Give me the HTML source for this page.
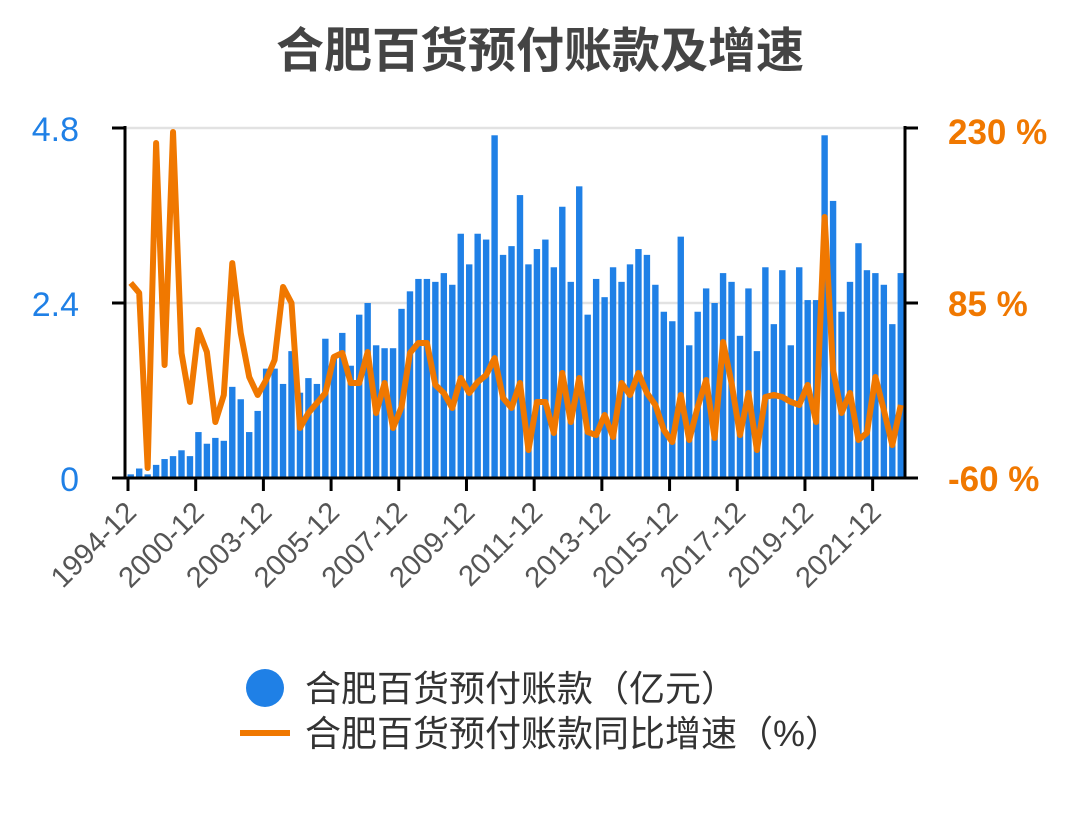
<!DOCTYPE html>
<html><head><meta charset="utf-8"><style>
body{margin:0;background:#fff;}
svg text{font-family:"Liberation Sans","Noto Sans CJK SC",sans-serif;}
</style></head><body>
<svg id="chart" width="1080" height="810" viewBox="0 0 1080 810" xmlns="http://www.w3.org/2000/svg">
<text x="540" y="67" text-anchor="middle" font-size="48" font-weight="bold" fill="#444">合肥百货预付账款及增速</text>
<g id="grid"></g><g id="bars"></g><g id="line"></g><g id="axes"></g>
<g>
<g><circle cx="265" cy="688" r="19" fill="#1f80e6"/><text x="305" y="701" font-size="36" fill="#333">合肥百货预付账款（亿元）</text></g>
<g><line x1="240" y1="733" x2="290" y2="733" stroke="#f07800" stroke-width="6"/><text x="305" y="746" font-size="36" fill="#333">合肥百货预付账款同比增速（%）</text></g>
</g>
</svg>
<script>
const barValues=[0.05,0.13,0.05,0.18,0.26,0.30,0.38,0.30,0.63,0.47,0.55,0.51,1.25,1.08,0.63,0.92,1.5,1.5,1.29,1.74,1.17,1.37,1.29,1.91,1.66,1.99,1.54,2.24,2.4,1.82,1.78,1.78,2.32,2.56,2.73,2.73,2.69,2.81,2.65,3.35,2.93,3.35,3.27,4.70,3.06,3.18,3.88,2.93,3.14,3.27,2.89,3.72,2.69,4.0,2.24,2.73,2.48,2.89,2.69,2.93,3.14,3.06,2.65,2.28,2.15,3.31,1.82,2.28,2.6,2.4,2.81,2.69,1.95,2.6,1.74,2.89,2.11,2.85,1.82,2.89,2.44,2.44,4.70,3.80,2.28,2.69,3.22,2.85,2.81,2.65,2.11,2.81];
const growthValues=[101.6,93.3,-51.7,217.6,33.6,226.7,43.6,3,62.6,44.4,-13.6,8.8,118,60.1,23.7,8.8,21.2,37.8,98.3,85,-18.6,-6.1,2.1,10.4,40.3,43.6,18.7,18.7,44.4,-6.1,18.7,-18.6,-1.2,43.6,51.9,51.9,17.1,10.4,-2,22.9,10.4,19.5,25.3,39.4,6.3,-2,18.7,-36.8,3,3,-22.7,27,-13.6,22.9,-21.9,-24.4,-7.8,-26,18.7,8.8,27,10.4,0.5,-20.2,-30.2,8.8,-28.5,-1.2,21.2,-26.9,52.7,18.7,-24.4,10.4,-36.8,7.1,8.8,7.1,3,0.5,17.1,-13.6,156.3,29.5,-6.1,10.4,-28.5,-22.7,23.7,-3.7,-32.7,0.5];
const tickIndex=[0,8,16,24,32,40,48,56,64,72,80,88];
const tickLabels=["1994-12","2000-12","2003-12","2005-12","2007-12","2009-12","2011-12","2013-12","2015-12","2017-12","2019-12","2021-12"];
const leftTicks=[0,2.4,4.8];
const leftTickLabels=["0","2.4","4.8"];
const rightTicks=[-60,85,230];
const rightTickLabels=["-60 %","85 %","230 %"];
const NS="http://www.w3.org/2000/svg";
const X0=126.5,X1=905,Y0=478,Y1=128;
const band=(X1-X0)/barValues.length;
const xB=i=>X0+band*(i+0.5);
const xEdge=i=>X0+band*i;
const yL=v=>Y0-(v/4.8)*(Y0-Y1);
const yR=v=>Y0-((v+60)/290)*(Y0-Y1);
function mk(tag,attrs,parent){const e=document.createElementNS(NS,tag);for(const k in attrs)e.setAttribute(k,attrs[k]);document.getElementById(parent).appendChild(e);return e;}
leftTicks.forEach((t,i)=>{if(t>0){const g=mk('line',{x1:X0,x2:X1,y1:yL(t),y2:yL(t),stroke:'#e2e2e2','stroke-width':2.5},'grid');

}});
barValues.forEach((v,i)=>{const r=mk('rect',{x:xB(i)-3.2,y:yL(v),width:6.4,height:Y0-yL(v),fill:'#1f80e6'},'bars');

});
const p=mk('polyline',{points:growthValues.map((v,i)=>xB(i)+','+yR(v)).join(' '),fill:'none',stroke:'#f07800','stroke-width':6,'stroke-linejoin':'round'},'line');


const la=mk('line',{x1:125,x2:125,y1:Y1-2,y2:Y0+1,stroke:'#000','stroke-width':3},'axes');


const ra=mk('line',{x1:905,x2:905,y1:Y1-2,y2:Y0+1,stroke:'#000','stroke-width':3},'axes');


const ba=mk('line',{x1:124,x2:906,y1:Y0,y2:Y0,stroke:'#000','stroke-width':3},'axes');


leftTicks.forEach((t,i)=>{const y=yL(t);
const tk=mk('line',{x1:112,x2:125,y1:y,y2:y,stroke:'#000','stroke-width':3},'axes');


const tx=mk('text',{x:79,y:y+13,'text-anchor':'end','font-size':34,fill:'#1f80e6'},'axes');tx.textContent=leftTickLabels[i];

});
rightTicks.forEach((t,i)=>{const y=yR(t);
const tk=mk('line',{x1:905,x2:918,y1:y,y2:y,stroke:'#000','stroke-width':3},'axes');


const tx=mk('text',{x:948,y:y+13+(i==2?3:0),'font-size':35,'font-weight':'bold',fill:'#f07800'},'axes');tx.textContent=rightTickLabels[i];

});
tickIndex.forEach((ti,i)=>{const x=xEdge(ti)+1.5;
const tk=mk('line',{x1:x,x2:x,y1:Y0,y2:Y0+13,stroke:'#000','stroke-width':3},'axes');


const tx=mk('text',{x:x+10,y:Y0+36,'text-anchor':'end','font-size':29,fill:'#555',transform:`rotate(-45 ${x+10} ${Y0+36})`},'axes');tx.textContent=tickLabels[i];

});
</script>
</body></html>
